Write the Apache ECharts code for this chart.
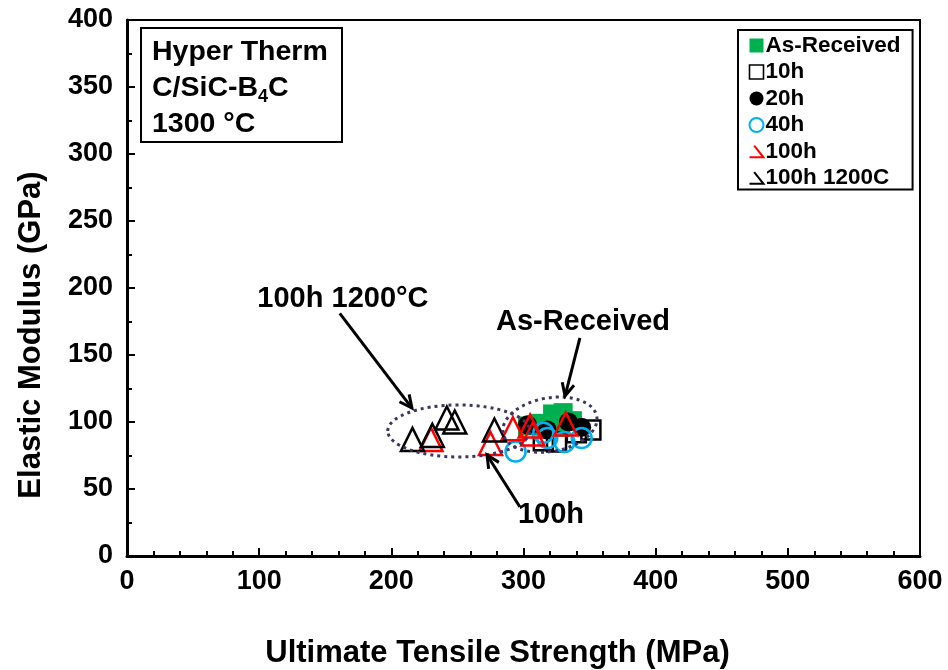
<!DOCTYPE html>
<html>
<head>
<meta charset="utf-8">
<script src="https://cdn.jsdelivr.net/npm/echarts@6/dist/echarts.min.js"></script>
<style>
html,body{margin:0;padding:0;background:#fff;}
#chart{width:948px;height:670px;}
</style>
</head>
<body>
<div id="chart"></div>
<script>
// ---- data (UTS MPa, Modulus GPa) ----
var seriesNames = ['As-Received', '10h', '20h', '40h', '100h', '100h 1200C'];
var asReceived = [[303,97],[312,99],[322,106],[330,107],[337,101],[328,96]];
var h10 = [[315,86],[325,85],[340,92],[351,94]];
var h20 = [[303,98],[318,94],[334,100],[344,96]];
var h40 = [[294,78],[315,92],[318,88],[331,85],[344,88]];
var h100 = [[230,87],[275,84],[292,95],[305,97],[307,91],[332,98.5]];
var h100_1200 = [[216,87],[231,90],[242,103],[248,100],[278,94]];
var xTicks = [0,100,200,300,400,500,600];
var yTicks = [0,50,100,150,200,250,300,350,400];

// annotations in data coordinates
var ellipses = [
  {cx:251, cy:93.3, rx:53.7, ry:19.4, rot:0},
  {cx:320, cy:98, rx:36, ry:20, rot:10}
];
var arrows = [
  {from:[161,181], to:[215.6,110.4]},
  {from:[342.7,162.7], to:[331.4,119.4]},
  {from:[297.3,36.6], to:[272.4,75.4]}
];
var labels = [
  {text:'100h 1200°C', at:[163.4,192]},
  {text:'As-Received', at:[345,174.5]},
  {text:'100h', at:[320.8,30.5]}
];

var FONT = '"Liberation Sans", Arial, sans-serif';
var chart = echarts.init(document.getElementById('chart'));

function sc(name, data, symbol, size, fill, stroke, bw, z) {
  return {
    name: name, type: 'scatter', data: data, symbol: symbol, symbolSize: size, z: z,
    itemStyle: {color: fill, borderColor: stroke, borderWidth: bw, opacity: 1},
    emphasis: {disabled: true}
  };
}

var option = {
  animation: false,
  backgroundColor: '#fff',
  grid: {left:127, right:28, top:20, bottom:114, containLabel:false, outerBoundsMode:'none',
    show:true, borderColor:'#000', borderWidth:2, backgroundColor:'transparent'},
  xAxis: {
    type:'value', min:0, max:600, interval:100,
    name:'Ultimate Tensile Strength (MPa)', nameLocation:'middle', nameGap:82,
    nameTextStyle:{fontFamily:FONT, fontWeight:'bold', fontSize:31, color:'#000', padding:[0,52,0,0]},
    axisLine:{show:true, lineStyle:{color:'#000', width:3}},
    axisTick:{show:true, inside:true, length:8, lineStyle:{color:'#000', width:2}},
    minorTick:{show:true, splitNumber:5, length:5, lineStyle:{color:'#000', width:2}},
    axisLabel:{fontFamily:FONT, fontWeight:'bold', fontSize:27, color:'#000', margin:12,
      formatter:function(v){return xTicks.indexOf(v)>=0 ? String(v) : '';}},
    splitLine:{show:false}
  },
  yAxis: {
    type:'value', min:0, max:400, interval:50,
    name:'Elastic Modulus (GPa)', nameLocation:'middle', nameGap:80,
    nameTextStyle:{fontFamily:FONT, fontWeight:'bold', fontSize:31, color:'#000', padding:[0,94,0,0]},
    axisLine:{show:true, lineStyle:{color:'#000', width:3}},
    axisTick:{show:true, inside:true, length:8, lineStyle:{color:'#000', width:2}},
    minorTick:{show:true, splitNumber:2, length:5, lineStyle:{color:'#000', width:2}},
    axisLabel:{fontFamily:FONT, fontWeight:'bold', fontSize:27, color:'#000', margin:14,
      formatter:function(v){return yTicks.indexOf(v)>=0 ? String(v) : '';}},
    splitLine:{show:false}
  },
  legend: {
    orient:'vertical', left:738, top:30,
    padding:[4,12,0,9], itemGap:3.5, itemWidth:14, itemHeight:14,
    borderColor:'#000', borderWidth:2, backgroundColor:'#fff',
    selectedMode:false,
    textStyle:{fontFamily:FONT, fontWeight:'bold', fontSize:22.5, lineHeight:20, color:'#000', padding:[0,0,0,-3]},
    data:[
      {name:seriesNames[0], icon:'rect', itemStyle:{color:'#00b050', borderWidth:0}},
      {name:seriesNames[1], icon:'rect', itemStyle:{color:'#fff', borderColor:'#000', borderWidth:1.6}},
      {name:seriesNames[2], icon:'circle', itemStyle:{color:'#000', borderWidth:0}},
      {name:seriesNames[3], icon:'circle', itemStyle:{color:'#fff', borderColor:'#00b0f0', borderWidth:2}},
      {name:seriesNames[4], icon:'path://M4,0 L12,10 L0,10', itemStyle:{color:'none', borderColor:'#ff0000', borderWidth:2}},
      {name:seriesNames[5], icon:'path://M4,0 L12,10 L0,10', itemStyle:{color:'none', borderColor:'#000', borderWidth:2}}
    ]
  },
  series: [
    sc(seriesNames[0], asReceived, 'rect', 19, '#00b050', '#00b050', 0, 2),
    sc(seriesNames[1], h10, 'rect', 19, 'rgba(255,255,255,0)', '#000', 2.5, 3),
    sc(seriesNames[2], h20, 'circle', 19, '#000', '#000', 0, 4),
    sc(seriesNames[3], h40, 'circle', 20, 'rgba(255,255,255,0)', '#00b0f0', 2.5, 5),
    sc(seriesNames[4], h100, 'triangle', 23, 'rgba(255,255,255,0)', '#ff0000', 2.5, 6),
    sc(seriesNames[5], h100_1200, 'triangle', 23, 'rgba(255,255,255,0)', '#000', 2.5, 7)
  ]
};
chart.setOption(option);

function px(p){ return chart.convertToPixel({gridIndex:0}, p); }
var g = [];
// text box
g.push({type:'rect', shape:{x:141, y:28, width:201, height:114}, style:{fill:'#fff', stroke:'#000', lineWidth:2}, z:10});
g.push({type:'text', x:152, y:34.5, style:{
  text:'Hyper Therm\nC/SiC-B{sub|4}C\n1300 °C', fontFamily:FONT, fontWeight:'bold', fontSize:28.5, lineHeight:36, fill:'#000',
  rich:{sub:{fontFamily:FONT, fontWeight:'bold', fontSize:18, verticalAlign:'bottom', padding:[14,0,0,0], lineHeight:36}}
}, z:11});
// ellipses
ellipses.forEach(function(e){
  var c = px([e.cx, e.cy]);
  var r1 = px([e.cx + e.rx, e.cy]);
  var r2 = px([e.cx, e.cy + e.ry]);
  g.push({type:'ellipse', x:c[0], y:c[1], rotation:e.rot*Math.PI/180,
    shape:{cx:0, cy:0, rx:Math.abs(r1[0]-c[0]), ry:Math.abs(c[1]-r2[1])},
    style:{fill:'none', stroke:'#3f3462', lineWidth:3, lineDash:[3,4]}, z:20});
});
// arrows
arrows.forEach(function(a){
  var p0 = px(a.from), p1 = px(a.to);
  var ang = Math.atan2(p1[1]-p0[1], p1[0]-p0[0]);
  var L = 14, s = 0.45;
  var h1 = [p1[0]-L*Math.cos(ang-s), p1[1]-L*Math.sin(ang-s)];
  var h2 = [p1[0]-L*Math.cos(ang+s), p1[1]-L*Math.sin(ang+s)];
  g.push({type:'line', shape:{x1:p0[0], y1:p0[1], x2:p1[0], y2:p1[1]}, style:{stroke:'#000', lineWidth:3}, z:21});
  g.push({type:'polyline', shape:{points:[h1, p1, h2]}, style:{stroke:'#000', lineWidth:3, fill:'none', lineJoin:'miter'}, z:21});
});
// labels
labels.forEach(function(l){
  var p = px(l.at);
  g.push({type:'text', x:p[0], y:p[1], style:{text:l.text, fontFamily:FONT, fontWeight:'bold', fontSize:29, fill:'#000', align:'center', verticalAlign:'middle'}, z:22});
});
chart.setOption({graphic:g});
</script>
</body>
</html>
